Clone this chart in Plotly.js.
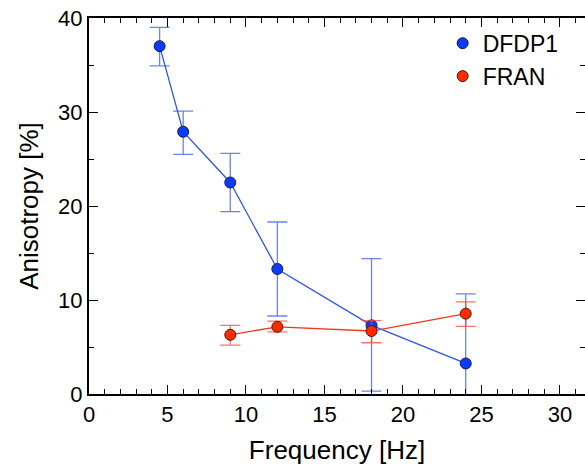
<!DOCTYPE html>
<html><head><meta charset="utf-8">
<script src="https://cdn.plot.ly/plotly-3.0.1.min.js"></script>
<style>html,body{margin:0;padding:0;background:#fff}#c{width:585px;height:466px}</style>
</head><body><div id="c"></div>
<script>
var dfdpX = [4.5, 6, 9, 12, 18, 24];
var dfdpY = [37.0, 27.9, 22.5, 13.3, 7.3, 3.25];
var dfdpUp = [2.0, 2.2, 3.1, 5.0, 7.1, 7.4];
var dfdpDown = [2.1, 2.4, 3.1, 5.0, 7.0, 7.4];
var franX = [9, 12, 18, 24];
var franY = [6.3, 7.15, 6.7, 8.55];
var franUp = [1.0, 0.6, 1.1, 1.25];
var franDown = [1.1, 0.55, 1.25, 1.35];

var font = 'Liberation Sans, Arial, Helvetica, sans-serif';
var traces = [
  {x: dfdpX, y: dfdpY, mode: 'lines', type: 'scatter', showlegend: false, hoverinfo: 'skip',
   line: {color: '#2f55f0', width: 1.3}},
  {x: franX, y: franY, mode: 'lines', type: 'scatter', showlegend: false, hoverinfo: 'skip',
   line: {color: '#f03a20', width: 1.3}},
  {x: dfdpX, y: dfdpY, name: 'DFDP1', mode: 'markers', type: 'scatter',
   marker: {color: '#0a3cff', size: 11, line: {color: '#1a1a40', width: 1}},
   error_y: {type: 'data', symmetric: false, array: dfdpUp, arrayminus: dfdpDown,
             color: 'rgba(60,90,230,0.75)', thickness: 1.3, width: 10}},
  {x: franX, y: franY, name: 'FRAN', mode: 'markers', type: 'scatter',
   marker: {color: '#ff2a00', size: 11, line: {color: '#402010', width: 1}},
   error_y: {type: 'data', symmetric: false, array: franUp, arrayminus: franDown,
             color: 'rgba(240,70,50,0.75)', thickness: 1.3, width: 10}}
];
var layout = {
  width: 585, height: 466,
  margin: {l: 89, r: 0, t: 18, b: 72},
  paper_bgcolor: '#fff', plot_bgcolor: '#fff',
  font: {family: font, color: '#000', size: 22},
  showlegend: true,
  legend: {x: 0.713, y: 0.99, xanchor: 'left', yanchor: 'top', bgcolor: 'rgba(0,0,0,0)',
           font: {size: 23, family: font}, itemwidth: 30, tracegroupgap: 0},
  xaxis: {range: [0, 31.6], tick0: 0, dtick: 5, ticks: 'inside', ticklen: 9, tickwidth: 1,
          tickcolor: '#000', showline: true, linecolor: '#000', linewidth: 2, mirror: 'allticks',
          showgrid: false, zeroline: false,
          minor: {dtick: 1, ticks: 'inside', ticklen: 5, tickcolor: '#000', showgrid: false},
          tickfont: {size: 22, family: font},
          title: {text: 'Frequency [Hz]', font: {size: 26, family: font}, standoff: 14}},
  yaxis: {range: [0, 40], tick0: 0, dtick: 10, ticks: 'inside', ticklen: 9, tickwidth: 1,
          tickcolor: '#000', showline: true, linecolor: '#000', linewidth: 2, mirror: 'allticks',
          showgrid: false, zeroline: false,
          minor: {dtick: 5, ticks: 'inside', ticklen: 5, tickcolor: '#000', showgrid: false},
          tickfont: {size: 22, family: font},
          title: {text: 'Anisotropy [%]', font: {size: 26, family: font}, standoff: 12}}
};
Plotly.newPlot('c', traces, layout, {displayModeBar: false, staticPlot: true});
</script></body></html>
